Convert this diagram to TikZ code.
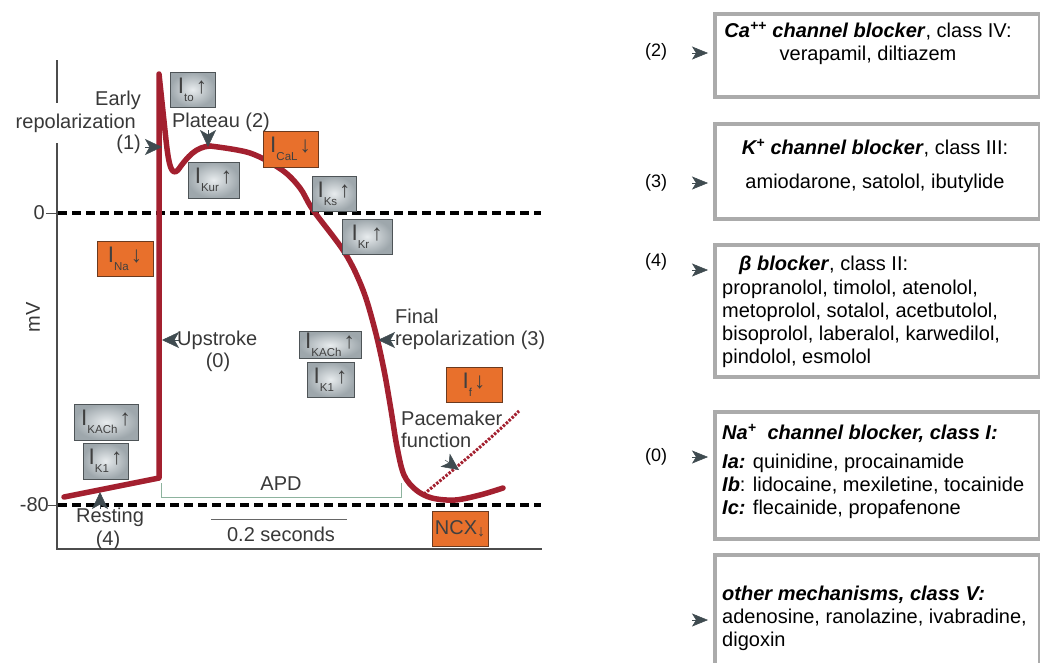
\documentclass[tikz,border=0pt]{standalone}
\usepackage{fontspec}
\setmainfont{Liberation Sans}
\usetikzlibrary{arrows.meta}

\definecolor{apred}{HTML}{A3202F}
\definecolor{ptrgray}{HTML}{3F4B50}
\definecolor{curlight}{HTML}{E8ECEE}
\definecolor{curdark}{HTML}{9EA7AC}
\definecolor{curedge}{HTML}{4E5457}
\definecolor{curorange}{HTML}{E8702C}
\definecolor{oraedge}{HTML}{6B3A1F}
\definecolor{apdgreen}{HTML}{8DB39E}
\definecolor{rxedge}{HTML}{ABABAB}

\newcommand{\curr}[2]{I\raisebox{-.36em}{\fontsize{11.5}{11.5}\selectfont #1}\hspace{2pt}#2}

\tikzset{
  lbl/.style={text=black!78, font=\fontsize{20}{22}\selectfont, inner sep=1pt},
  curbox/.style={draw=curedge, line width=1pt, inner sep=0pt, shading=radial,
    inner color=curlight, outer color=curdark, text=black!75,
    font=\fontsize{22.5}{22.5}\selectfont},
  orabox/.style={draw=oraedge, line width=1pt, inner sep=0pt, fill=curorange,
    text=black!75, font=\fontsize{22.5}{22.5}\selectfont},
  pointer/.style={-{Stealth[length=17pt,width=16pt,inset=4.5pt]}, ptrgray, line width=.5pt},
  rxptr/.style={-{Stealth[length=16pt,width=13pt,inset=4pt]}, ptrgray, line width=.5pt},
  rxbox/.style={draw=rxedge, line width=4pt, fill=white, inner sep=0pt},
  rxtext/.style={font=\fontsize{20}{23}\selectfont, inner sep=0pt},
  apcurve/.style={apred, line width=5.5pt, line join=round, line cap=round},
  zeroline/.style={line width=3.5pt, dash pattern=on 9pt off 5pt}
}

\begin{document}
\begin{tikzpicture}[x=1pt, y=-1pt]
\useasboundingbox (0,0) rectangle (1040,662);

% axes
\draw[line width=1.2pt, black!70] (57,60) -- (57,549) -- (542,549);
\draw[line width=1pt, black!70] (46,213) -- (57,213);
\draw[line width=1pt, black!70] (48,505) -- (57,505);
\node[lbl, anchor=east] (zeroLbl) at (46,213) {0};
\node[lbl, anchor=east] (minusLbl) at (50,505) {-80};
\node[lbl, rotate=90] (mvLbl) at (33,317) {mV};
\draw[zeroline] (58,213) -- (541,213);
\draw[zeroline] (58,505) -- (541,505);

% APD and scale
\draw[apdgreen, line width=1pt] (161,483) -- (161,497) -- (401,497) -- (401,483);
\node[lbl] (apdLbl) at (281,484) {APD};
\draw[black!60, line width=1pt] (211,519) -- (347,519);
\node[lbl] (secLbl) at (281,534) {0.2 seconds};

% phase labels
\node[lbl, anchor=east, fill=white, minimum height=40pt] (early2) at (137,123) {repolarization};
\node[lbl, anchor=east] (early1) at (142,100) {Early};
\node[lbl, anchor=east] (early3) at (142,144) {(1)};
\node[lbl] (plateauLbl) at (221,122) {Plateau (2)};
\node[lbl, anchor=west] (upLbl) at (176,340) {Upstroke};
\node[lbl] (upNum) at (218,362) {(0)};
\node[lbl, anchor=west] (final1) at (394,316) {Final};
\node[lbl, anchor=west] (final2) at (394,340) {repolarization (3)};
\node[lbl, anchor=west] (pace1) at (400,418) {Pacemaker};
\node[lbl, anchor=west] (pace2) at (400,440) {function};
\node[lbl] (rest1) at (110,517) {Resting};
\node[lbl] (rest2) at (108,540) {(4)};

% action potential
\draw[apcurve] (64,497) -- (159,478) -- (159,74) -- (166,140)
  .. controls (169,168) and (172,176) .. (178,170)
  .. controls (188,156) and (196,147) .. (210,146);
\draw[apcurve] plot[smooth, tension=.55] coordinates {(210,146) (250,153) (282,170)
  (300,188) (313,210) (345,253) (363,290) (375,330) (384,370) (391,410)
  (397,447) (404,475) (416,490) (432,498) (455,500) (480,495) (503,488)};
\draw[apred, line width=3pt, dash pattern=on 2.5pt off 1.5pt]
  (424,494) .. controls (458,466) and (492,438) .. (519,411);

% pointers
\coordinate (earlyTip) at (162,147);
\coordinate (plateauTip) at (208,147);
\coordinate (upTip) at (162,340);
\coordinate (finalTip) at (378,340);
\coordinate (paceTip) at (459,470);
\coordinate (restTip) at (100,492);
\draw[pointer] ([xshift=-17pt]earlyTip) -- (earlyTip);
\draw[pointer] ([yshift=17pt]plateauTip) -- (plateauTip);
\draw[pointer] ([xshift=17pt]upTip) -- (upTip);
\draw[pointer] ([xshift=17pt]finalTip) -- (finalTip);
\draw[pointer] ([xshift=-14pt,yshift=10pt]paceTip) -- (paceTip);
\draw[pointer] ([yshift=-17pt]restTip) -- (restTip);

% ion currents
\node[curbox, minimum width=45pt, minimum height=35pt] (ito) at (192.5,89.5) {\curr{to}{↑}};
\node[curbox, minimum width=51pt, minimum height=36pt] (ikur) at (213.5,180) {\curr{Kur}{↑}};
\node[orabox, minimum width=55pt, minimum height=36pt] (ical) at (290.5,149) {\curr{CaL}{↓}};
\node[curbox, minimum width=44pt, minimum height=35pt] (iks) at (334,193.5) {\curr{Ks}{↑}};
\node[curbox, minimum width=50pt, minimum height=35pt] (ikr) at (367,236.5) {\curr{Kr}{↑}};
\node[orabox, minimum width=56pt, minimum height=35pt] (ina) at (125,258.5) {\curr{Na}{↓}};
\node[curbox, minimum width=62pt, minimum height=27pt] (ikachB) at (330,345) {\curr{KACh}{↑}};
\node[curbox, minimum width=47pt, minimum height=35pt] (ikoneB) at (330.5,379.5) {\curr{K1}{↑}};
\node[orabox, minimum width=56pt, minimum height=35pt] (ifunny) at (474,384.5) {\curr{f}{↓}};
\node[curbox, minimum width=64pt, minimum height=36pt] (ikachA) at (106,422) {\curr{KACh}{↑}};
\node[curbox, minimum width=45pt, minimum height=36pt] (ikoneA) at (105.5,461) {\curr{K1}{↑}};
\node[orabox, minimum width=56pt, minimum height=35pt, font=\fontsize{20}{20}\selectfont] (ncx) at (460,528.5) {NCX\raisebox{-2pt}{\fontsize{16}{16}\selectfont↓}};

% drug classes
\node[rxbox, minimum width=325pt, minimum height=83pt, anchor=north west] (caBox) at (713,12) {};
\node[rxtext, align=center, anchor=north] (caText) at (868,22)
  {\textbf{\textit{Ca\textsuperscript{++} channel blocker}}, class IV:\\verapamil, diltiazem};
\node[rxbox, minimum width=325pt, minimum height=95pt, anchor=north west] (kBox) at (713,122) {};
\node[rxtext, align=center, anchor=north] (kText) at (875,139)
  {\textbf{\textit{K\textsuperscript{+} channel blocker}}, class III:\\[11pt]amiodarone, satolol, ibutylide};
\node[rxbox, minimum width=325pt, minimum height=132pt, anchor=north west] (betaBox) at (713,243) {};
\node[rxtext, align=left, anchor=north west, font=\fontsize{20}{23.3}\selectfont] (betaText) at (722,256)
  {\hspace{17pt}\textbf{\textit{β blocker}}, class II:\\propranolol, timolol, atenolol,\\metoprolol, sotalol, acetbutolol,\\bisoprolol, laberalol, karwedilol,\\pindolol, esmolol};
\node[rxbox, minimum width=325pt, minimum height=127pt, anchor=north west] (naBox) at (713,410) {};
\node[rxtext, align=left, anchor=north west] (naText) at (722,424)
  {\textbf{\textit{Na\textsuperscript{+}\ \ channel blocker, class I:}}\\[6pt]\textbf{\textit{Ia:}} quinidine, procainamide\\\textbf{\textit{Ib}}: lidocaine, mexiletine, tocainide\\\textbf{\textit{Ic:}} flecainide, propafenone};
\node[rxbox, minimum width=325pt, minimum height=130pt, anchor=north west] (otherBox) at (713,553) {};
\node[rxtext, align=left, anchor=north west] (otherText) at (722,586)
  {\textbf{\textit{other mechanisms, class V:}}\\adenosine, ranolazine, ivabradine,\\digoxin};

\node[lbl, text=black, font=\fontsize{18}{18}\selectfont] (caNum) at (656,52) {(2)};
\node[lbl, text=black, font=\fontsize{18}{18}\selectfont] (kNum) at (656,183) {(3)};
\node[lbl, text=black, font=\fontsize{18}{18}\selectfont] (betaNum) at (656,262) {(4)};
\node[lbl, text=black, font=\fontsize{18}{18}\selectfont] (naNum) at (656,457) {(0)};
\coordinate (caTip) at (708,53);
\coordinate (kTip) at (708,183);
\coordinate (betaTip) at (708,270);
\coordinate (naTip) at (708,457);
\coordinate (otherTip) at (708,620);
\foreach \t in {caTip,kTip,betaTip,naTip,otherTip}
  \draw[rxptr] ([xshift=-16pt]\t) -- (\t);
\end{tikzpicture}
\end{document}
